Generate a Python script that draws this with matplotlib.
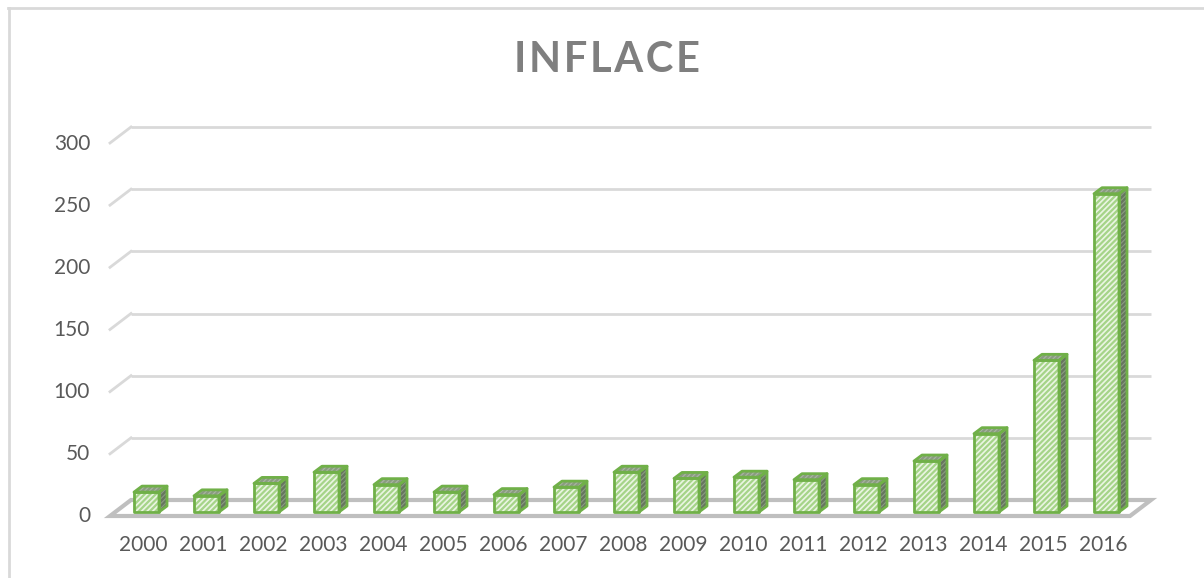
import matplotlib
matplotlib.use("Agg")
import matplotlib.pyplot as plt
from matplotlib.patches import Polygon
from matplotlib.transforms import Affine2D
from matplotlib.lines import Line2D

years = ["2000","2001","2002","2003","2004","2005","2006","2007","2008","2009","2010","2011","2012","2013","2014","2015","2016"]
values = [16,13,23,32,22,16,14,20,32,27,28,26,22,41,63,122,256]
y_ticks = [0,50,100,150,200,250,300]

W, H = 1204, 578
plt.rcParams['font.family'] = ['Lato', 'DejaVu Sans']
plt.rcParams['hatch.linewidth'] = 1.6
fig = plt.figure(figsize=(W/100, H/100), dpi=100, facecolor='white')
# front plane of the chart, in pixels from the top-left corner
L, R, Y0, Y300 = 113, 1133, 516, 143
ax = fig.add_axes([L/W, 1-Y0/H, (R-L)/W, (Y0-Y300)/H])
ax.set_xlim(-0.5, 16.5)
ax.set_ylim(0, 300)
ax.patch.set_visible(False)
for s in ax.spines.values():
    s.set_visible(False)
ax.set_xticks(range(len(years)), years)
ax.set_yticks(y_ticks)
ax.tick_params(length=0, labelsize=15, labelcolor='#595959')
ax.tick_params(axis='x', pad=14)
ax.tick_params(axis='y', pad=0)
for lab in ax.get_yticklabels():
    lab.set_x(-0.0225)
    lab.set_transform(lab.get_transform() + Affine2D().translate(0, 1.5))

def shifted(dx, dy):
    return ax.transData + Affine2D().translate(dx, dy)

back = shifted(18, 16)
front = shifted(-3, 0)
GRID, FLOOR = '#D9D9D9', '#BFBFBF'
for v in y_ticks[1:]:
    ax.plot([-0.5, 16.5], [v, v], color=GRID, lw=2, transform=back, clip_on=False, zorder=1, solid_capstyle='butt')
    p0, p1 = front.transform((-0.5, v)), back.transform((-0.5, v))
    fig.add_artist(Line2D([p0[0], p1[0]], [p0[1], p1[1]], color=GRID, lw=2, transform=None, zorder=1))

corners = [front.transform((-0.5, 0)), front.transform((16.5, 0)), back.transform((16.5, 0)), back.transform((-0.5, 0))]
ax.add_patch(Polygon(corners, closed=True, fill=False, edgecolor=FLOOR, lw=3, transform=None, clip_on=False, zorder=1.5, joinstyle='miter'))

BW = 25/60
GREEN = '#70B048'
bf = shifted(3.5, 4)
bb = shifted(11.5, 10)
for i, v in enumerate(values):
    xl, xr = i - BW/2, i + BW/2
    a = bf.transform((xl, 0)); b = bf.transform((xr, 0))
    c = bf.transform((xr, v)); d = bf.transform((xl, v))
    e = bb.transform((xr, 0)); f = bb.transform((xr, v)); g = bb.transform((xl, v))
    faces = [([b, e, f, c], '#8A9A82', '#66765E', '///////'),
             ([d, c, f, g], '#A9B5A2', '#8A9C80', '///////'),
             ([a, b, c, d], '#EAF5E2', '#A5D488', '//////')]
    for pts, fc, hc, hatch in faces:
        ax.add_patch(Polygon(pts, closed=True, facecolor=fc, edgecolor=hc, hatch=hatch, lw=0, transform=None, clip_on=False, zorder=3))
        ax.add_patch(Polygon(pts, closed=True, fill=False, edgecolor=GREEN, lw=2, transform=None, clip_on=False, zorder=4, joinstyle='round'))

fig.text(607.5/W, 1-60/H, "I N F L A C E".replace(" ", "\u200a"), ha='center', va='center', fontsize=30, fontweight='bold', color='#7F7F7F')

fig.add_artist(Line2D([8.5/W, 8.5/W], [0, 1-8/H], color='#D9D9D9', lw=2))
fig.add_artist(Line2D([8/W, 1], [1-8/H, 1-8/H], color='#D9D9D9', lw=2))

fig.savefig("out.png", dpi=100, facecolor='white')
